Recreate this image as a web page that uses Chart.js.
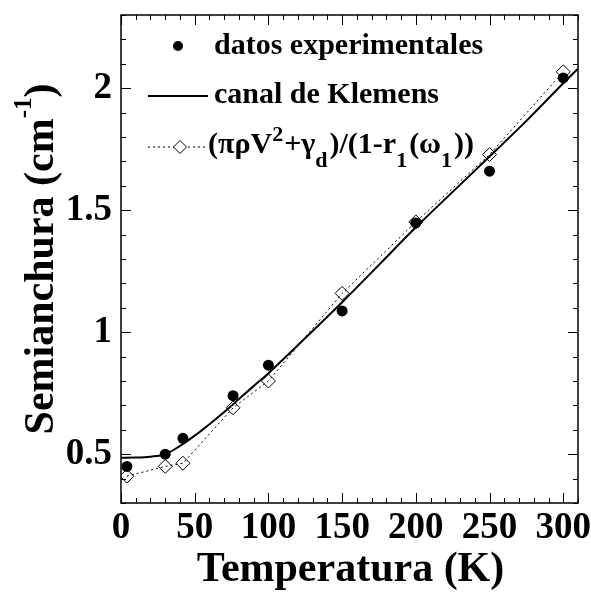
<!DOCTYPE html>
<html>
<head>
<meta charset="utf-8">
<script src="https://cdn.jsdelivr.net/npm/chart.js@4.4.1/dist/chart.umd.min.js"></script>
<style>
  html, body { margin: 0; padding: 0; background: #fff; }
</style>
</head>
<body>
<canvas id="myChart" width="591" height="592"></canvas>
<script>
// datos
const temps = [4, 30, 42, 76, 100, 150, 200, 250, 300];
const anchuraExp = [0.45, 0.50, 0.565, 0.74, 0.865, 1.087, 1.448, 1.66, 2.042];
const anchuraModelo = [0.41, 0.45, 0.463, 0.69, 0.80, 1.159, 1.452, 1.728, 2.067];
const klemensT = [0, 10, 20, 30, 40, 50, 60, 70, 80, 90, 100, 125, 150, 175, 200, 225, 250, 275, 300, 310];
const klemensY = [0.485, 0.486, 0.49, 0.5, 0.534, 0.576, 0.623, 0.673, 0.726, 0.779, 0.832, 0.976, 1.123, 1.276, 1.43, 1.575, 1.72, 1.866, 2.02, 2.08];
const xTicks = [0, 50, 100, 150, 200, 250, 300];
const yTicks = [0.5, 1, 1.5, 2];

const serif = "'Liberation Serif', 'Times New Roman', serif";

// dibuja texto con super/subindices; devuelve el ancho
function runs(ctx, parts, x, y, big, small, supUp, subDown, measureOnly) {
  let w = 0;
  parts.forEach(p => {
    const size = p.s ? small : big;
    ctx.font = 'bold ' + size + 'px ' + serif;
    const dy = p.s === 'sup' ? -supUp : (p.s === 'sub' ? subDown : 0);
    if (!measureOnly) ctx.fillText(p.t, x + w, y + dy);
    w += ctx.measureText(p.t).width + (p.gap || 0);
  });
  return w;
}

const decor = {
  id: 'decor',
  afterDraw(chart) {
    const ctx = chart.ctx;
    const a = chart.chartArea;
    const xs = chart.scales.x, ys = chart.scales.y;
    ctx.save();
    ctx.strokeStyle = '#000';
    ctx.fillStyle = '#000';
    ctx.lineWidth = 1;

    // marcas hacia dentro en los cuatro lados
    for (let v = 0; v <= 310; v += 10) {
      const px = Math.round(xs.getPixelForValue(v)) + 0.5;
      const len = v % 50 === 0 ? 10 : 5;
      ctx.beginPath();
      ctx.moveTo(px, a.bottom); ctx.lineTo(px, a.bottom - len);
      ctx.moveTo(px, a.top); ctx.lineTo(px, a.top + len);
      ctx.stroke();
    }
    for (let i = 3; i <= 23; i++) {
      const py = Math.round(ys.getPixelForValue(i / 10)) + 0.5;
      const len = i % 5 === 0 ? 10 : 5;
      ctx.beginPath();
      ctx.moveTo(a.left, py); ctx.lineTo(a.left + len, py);
      ctx.moveTo(a.right, py); ctx.lineTo(a.right - len, py);
      ctx.stroke();
    }
    ctx.lineWidth = 1.5;
    ctx.strokeRect(a.left, a.top, a.right - a.left, a.bottom - a.top);

    // leyenda
    const L = a.left, T = a.top;
    ctx.beginPath();
    ctx.arc(L + 57, T + 31, 5, 0, Math.PI * 2);
    ctx.fill();
    ctx.lineWidth = 2;
    ctx.beginPath();
    ctx.moveTo(L + 27, T + 81); ctx.lineTo(L + 87, T + 81);
    ctx.stroke();
    ctx.lineWidth = 1;
    ctx.setLineDash([2, 3]);
    ctx.beginPath();
    ctx.moveTo(L + 27, T + 132); ctx.lineTo(L + 85, T + 132);
    ctx.stroke();
    ctx.setLineDash([]);
    ctx.fillStyle = '#fff';
    ctx.beginPath();
    const dx = L + 59, dy = T + 132, r = 6.5;
    ctx.moveTo(dx, dy - r); ctx.lineTo(dx + r, dy); ctx.lineTo(dx, dy + r); ctx.lineTo(dx - r, dy);
    ctx.closePath();
    ctx.fill();
    ctx.stroke();
    ctx.fillStyle = '#000';
    ctx.textAlign = 'left';
    ctx.textBaseline = 'alphabetic';
    runs(ctx, [{t: 'datos experimentales'}], L + 93, T + 39, 30, 20, 12, 14);
    runs(ctx, [{t: 'canal de Klemens'}], L + 93, T + 88, 30, 20, 12, 14);
    runs(ctx, [
      {t: '(\u03C0\u03C1V'}, {t: '2', s: 'sup', gap: 1}, {t: '+\u03B3'}, {t: 'd', s: 'sub', gap: 2},
      {t: ')/(1-r'}, {t: '1', s: 'sub', gap: 2}, {t: '(\u03C9'}, {t: '1', s: 'sub', gap: 2}, {t: '))'}
    ], L + 87, T + 138, 30, 22, 12, 14);

    // titulos de ejes
    ctx.font = 'bold 42px ' + serif;
    ctx.textAlign = 'center';
    ctx.fillText('Temperatura (K)', (a.left + a.right) / 2 + 1, 581);

    const yParts = [{t: 'Semianchura (cm'}, {t: '-1', s: 'sup'}, {t: ')'}];
    ctx.textAlign = 'left';
    const w = runs(ctx, yParts, 0, 0, 42, 25, 22, 0, true);
    ctx.translate(53, (a.top + a.bottom) / 2);
    ctx.rotate(-Math.PI / 2);
    runs(ctx, yParts, -w / 2, 0, 42, 25, 22, 0);
    ctx.restore();
  }
};

const tickFont = { family: serif, weight: 'bold', size: 37 };

function noPad(s) {
  s.paddingTop = 0; s.paddingBottom = 0; s.paddingLeft = 0; s.paddingRight = 0;
}

new Chart(document.getElementById('myChart'), {
  type: 'scatter',
  data: {
    datasets: [{
      label: 'datos experimentales',
      data: temps.map((t, i) => ({ x: t, y: anchuraExp[i] })),
      showLine: false,
      pointStyle: 'circle',
      pointRadius: 5.5,
      backgroundColor: '#000',
      borderColor: '#000',
      borderWidth: 0
    }, {
      label: 'canal de Klemens',
      data: klemensT.map((t, i) => ({ x: t, y: klemensY[i] })),
      showLine: true,
      pointRadius: 0,
      borderColor: '#000',
      borderWidth: 2,
      cubicInterpolationMode: 'monotone'
    }, {
      label: 'modelo',
      data: temps.map((t, i) => ({ x: t, y: anchuraModelo[i] })),
      showLine: true,
      pointStyle: 'rectRot',
      pointRadius: 7,
      backgroundColor: 'rgba(0,0,0,0)',
      borderColor: '#000',
      borderWidth: 1,
      borderDash: [2, 3],
      tension: 0
    }]
  },
  options: {
    responsive: false,
    animation: false,
    devicePixelRatio: 1,
    layout: { padding: { top: 15, right: 13, left: 0, bottom: 0 } },
    plugins: {
      legend: { display: false },
      tooltip: { enabled: false }
    },
    scales: {
      x: {
        type: 'linear',
        min: 0,
        max: 310,
        grid: { display: false, drawTicks: false },
        border: { display: false },
        afterBuildTicks: s => { s.ticks = xTicks.map(v => ({ value: v })); },
        afterFit: s => { s.height = 89; noPad(s); },
        ticks: { font: tickFont, color: '#000', padding: 3, maxRotation: 0, callback: v => String(v) }
      },
      y: {
        type: 'linear',
        min: 0.3,
        max: 2.3,
        grid: { display: false, drawTicks: false },
        border: { display: false },
        afterBuildTicks: s => { s.ticks = yTicks.map(v => ({ value: v })); },
        afterFit: s => { s.width = 121; noPad(s); },
        ticks: { font: tickFont, color: '#000', padding: 9, callback: v => String(v) }
      }
    }
  },
  plugins: [decor]
});
</script>
</body>
</html>
